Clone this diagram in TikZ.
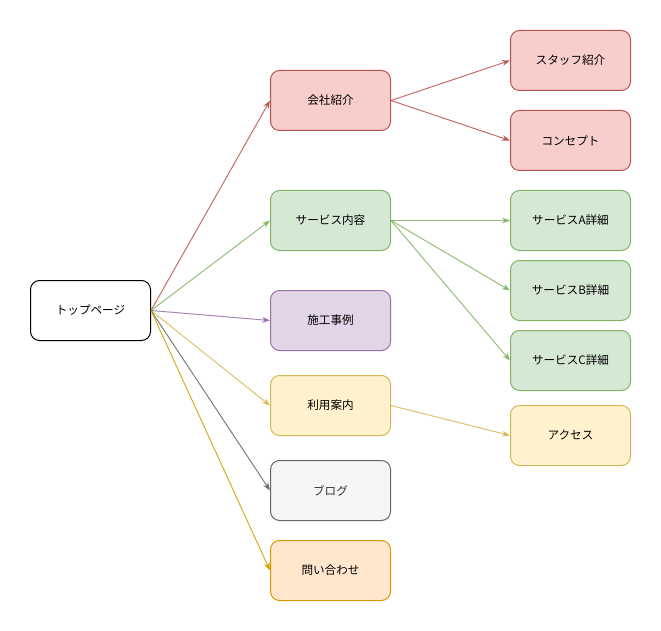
\documentclass[tikz,border=0pt]{standalone}
\usepackage{fontspec}
\setmainfont{Noto Sans CJK JP}
\usetikzlibrary{arrows.meta}
\definecolor{redF}{HTML}{F8CECC}\definecolor{redS}{HTML}{B85450}
\definecolor{grnF}{HTML}{D5E8D4}\definecolor{grnS}{HTML}{82B366}
\definecolor{purF}{HTML}{E1D5E7}\definecolor{purS}{HTML}{9673A6}
\definecolor{yelF}{HTML}{FFF2CC}\definecolor{yelS}{HTML}{D6B656}
\definecolor{gryF}{HTML}{F5F5F5}\definecolor{gryS}{HTML}{666666}
\definecolor{orgF}{HTML}{FFE6CC}\definecolor{orgS}{HTML}{D79B00}
\definecolor{txtG}{HTML}{333333}
\begin{document}
\begin{tikzpicture}[x=1pt,y=-1pt,
  box/.style={draw, line width=1pt, rounded corners=9pt, minimum width=120pt, minimum height=60pt, inner sep=0pt, font=\fontsize{11.6}{13}\selectfont, anchor=north west},
  redbox/.style={box, fill=redF, draw=redS},
  grnbox/.style={box, fill=grnF, draw=grnS},
  purbox/.style={box, fill=purF, draw=purS},
  yelbox/.style={box, fill=yelF, draw=yelS},
  grybox/.style={box, fill=gryF, draw=gryS, text=txtG},
  orgbox/.style={box, fill=orgF, draw=orgS},
  link/.style={line width=1pt, draw opacity=0.85, -{Stealth[length=8pt,width=6pt,inset=2.5pt]}}
]
\useasboundingbox (0,0) rectangle (661,631);
\node[box, fill=white, draw=black] (top) at (30,280) {トップページ};
\node[redbox] (about) at (270,70) {会社紹介};
\node[grnbox] (svc) at (270,190) {サービス内容};
\node[purbox] (works) at (270,290) {施工事例};
\node[yelbox] (guide) at (270,375) {利用案内};
\node[grybox] (blog) at (270,460) {ブログ};
\node[orgbox] (contact) at (270,540) {問い合わせ};
\node[redbox] (staff) at (510,30) {スタッフ紹介};
\node[redbox] (concept) at (510,110) {コンセプト};
\node[grnbox] (sa) at (510,190) {サービスA詳細};
\node[grnbox] (sb) at (510,260) {サービスB詳細};
\node[grnbox] (sc) at (510,330) {サービスC詳細};
\node[yelbox] (access) at (510,405) {アクセス};
\draw[link, redS] (top.east) -- (about.west);
\draw[link, grnS] (top.east) -- (svc.west);
\draw[link, purS] (top.east) -- (works.west);
\draw[link, yelS] (top.east) -- (guide.west);
\draw[link, gryS] (top.east) -- (blog.west);
\draw[link, orgS] (top.east) -- (contact.west);
\draw[link, redS] (about.east) -- (staff.west);
\draw[link, redS] (about.east) -- (concept.west);
\draw[link, grnS] (svc.east) -- (sa.west);
\draw[link, grnS] (svc.east) -- (sb.west);
\draw[link, grnS] (svc.east) -- (sc.west);
\draw[link, yelS] (guide.east) -- (access.west);
\end{tikzpicture}
\end{document}
